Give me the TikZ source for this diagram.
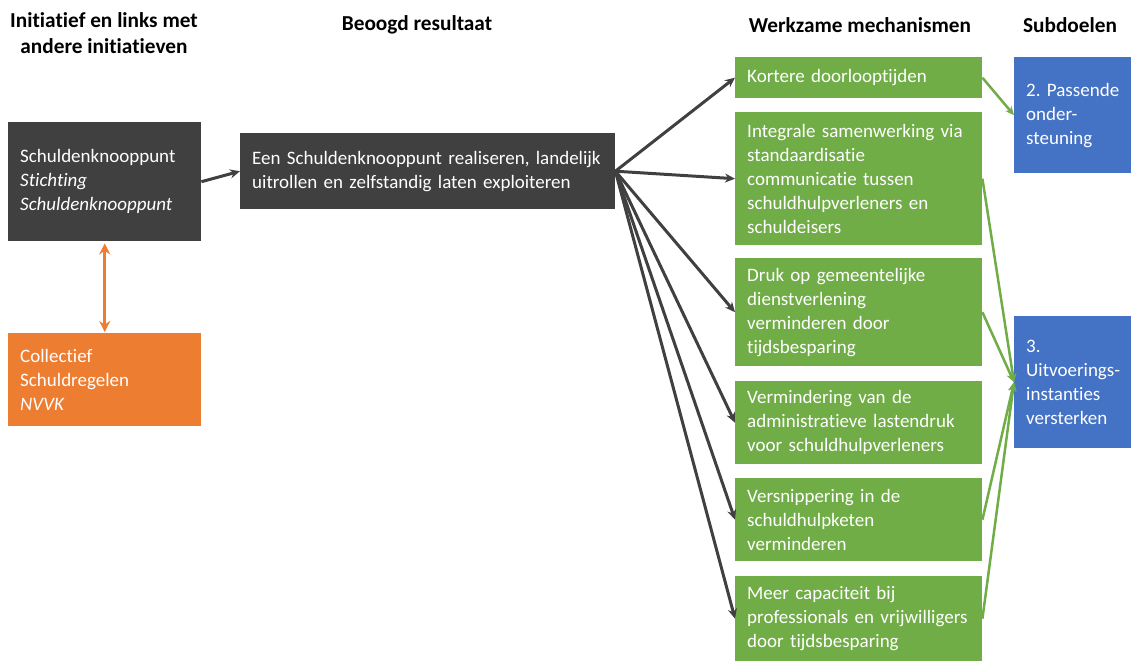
\documentclass[tikz,border=0pt]{standalone}
\usepackage{fontspec}
\setmainfont{Carlito}[Ligatures=NoCommon]
\usetikzlibrary{arrows.meta}
\definecolor{donker}{HTML}{404040}
\definecolor{oranje}{HTML}{ED7D31}
\definecolor{groen}{HTML}{70AD47}
\definecolor{blauw}{HTML}{4472C4}
\frenchspacing

\begin{document}
\begin{tikzpicture}[x=1pt,y=-1pt]
	\tikzset{vak/.style={anchor=north west, inner xsep=12pt, inner ysep=0pt, text=white, align=left, font=\fontsize{19}{24}\selectfont},
		donkervak/.style={vak, fill=donker},
		oranjevak/.style={vak, fill=oranje, text width=169pt, minimum width=193pt},
		groenvak/.style={vak, fill=groen, text width=223pt, minimum width=247pt},
		blauwvak/.style={vak, fill=blauw, text width=105pt, minimum width=117pt},
		kop/.style={align=center, font=\fontsize{21.3}{26}\bfseries\selectfont},
		pijl/.style={draw=donker, line width=3pt, -{Stealth[length=10pt,width=9pt]}},
		groenpijl/.style={draw=groen, line width=2.5pt, -{Stealth[length=9pt,width=8pt]}}}
	\useasboundingbox (0,0) rectangle (1131,662);
	
	% koppen
	\node[kop] (kop1) at (104,33) {Initiatief en links met\\andere initiatieven};
	\node[kop] (kop2) at (417,25) {Beoogd resultaat};
	\node[kop] (kop3) at (860,25) {Werkzame mechanismen};
	\node[kop] (kop4) at (1070,25) {Subdoelen};
	
	% initiatief en resultaat
	\node[donkervak, text width=169pt, minimum width=193pt, minimum height=119pt] (knoop) at (8,122) {Schuldenknooppunt\\\textit{Stichting}\\\textit{Schuldenknooppunt}};
	\node[oranjevak, minimum height=93pt] (collectief) at (8,333) {Collectief\\Schuldregelen\\\textit{NVVK}};
	\node[donkervak, text width=351pt, minimum width=375pt, minimum height=76pt] (resultaat) at (240,133) {Een Schuldenknooppunt realiseren, landelijk\\uitrollen en zelfstandig laten exploiteren};
	
	% mechanismen
	\node[groenvak, minimum height=41pt] (g1) at (735,57) {Kortere doorlooptijden};
	\node[groenvak, minimum height=133pt] (g2) at (735,112) {Integrale samenwerking via\\standaardisatie\\communicatie tussen\\schuldhulpverleners en\\schuldeisers};
	\node[groenvak, minimum height=108pt] (g3) at (735,258) {Druk op gemeentelijke\\dienstverlening\\verminderen door\\tijdsbesparing};
	\node[groenvak, minimum height=83pt] (g4) at (735,381) {Vermindering van de\\administratieve lastendruk\\voor schuldhulpverleners};
	\node[groenvak, minimum height=83pt] (g5) at (735,478) {Versnippering in de\\schuldhulpketen\\verminderen};
	\node[groenvak, minimum height=85pt] (g6) at (735,576) {Meer capaciteit bij\\professionals en vrijwilligers\\door tijdsbesparing};
	
	% subdoelen
	\node[blauwvak, minimum height=116pt] (b1) at (1014,57) {2. Passende\\onder-\\steuning};
	\node[blauwvak, minimum height=132pt] (b2) at (1014,316) {3.\\Uitvoerings-\\instanties\\versterken};
	
	% verbindingen
	\draw[pijl] (knoop.east) -- (resultaat.west);
	\draw[draw=oranje, line width=3pt, {Stealth[length=11pt,width=11pt]}-{Stealth[length=11pt,width=11pt]}, shorten <=2pt, shorten >=1pt] (knoop.south) -- (collectief.north);
	\foreach \g in {g1,g2,g3,g4,g5,g6}
		\draw[pijl] (resultaat.east) -- (\g.west);
	\draw[groenpijl] (g1.east) -- (b1.west);
	\foreach \g in {g2,g3,g5,g6}
		\draw[groenpijl] (\g.east) -- (b2.west);
\end{tikzpicture}
\end{document}
